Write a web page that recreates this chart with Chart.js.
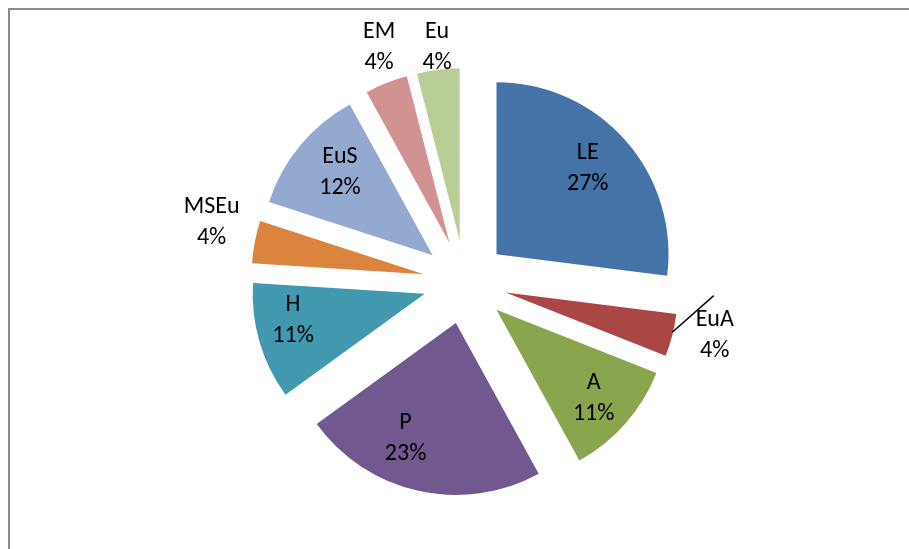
<!DOCTYPE html>
<html>
<head>
<meta charset="utf-8">
<script src="https://cdn.jsdelivr.net/npm/chart.js@4/dist/chart.umd.min.js"></script>
<style>
    html, body { margin: 0; padding: 0; background: #fff; overflow: hidden; }
    #wrap { position: relative; width: 909px; height: 549px; }
    #frame {
        position: absolute; left: 8px; top: 8px; width: 1000px; height: 1000px;
        border: 2px solid #8c8c8c; box-sizing: border-box;
    }
    #pieChart { position: absolute; left: 0; top: 0; }
</style>
</head>
<body>
<div id="wrap">
    <div id="frame"></div>
    <canvas id="pieChart" width="909" height="549"></canvas>
</div>
<script>
// slice names and shares (%), clockwise from 12 o'clock
const categories = ["LE", "EuA", "A", "P", "H", "MSEu", "EuS", "EM", "Eu"];
const shares = [27, 4, 11, 23, 11, 4, 12, 4, 4];

const sliceColors = ["#4572A7", "#AA4643", "#89A54E", "#71588F", "#4198AF",
                     "#DB843D", "#93A9CF", "#D19392", "#B9CD96"];

// label placement: distance from slice tip (fraction of radius) and a small
// turn (degrees) away from the slice's middle angle, like Excel's best fit
const labelDist = [0.73, 1.24, 0.765, 0.73, 0.78, 1.27, 0.725, 1.21, 1.13];
const labelTurn = [-2, -3, 1, 11, 5, 3, 2.4, 1.8, 0.5];
const leaderLine = [false, true, false, false, false, false, false, false, false];

const explode = 42;   // pixels every slice is pulled out
const fontFamily = "Carlito, Calibri, Lato, sans-serif";

// pull each slice out from the centre (Excel style, same distance for all)
const explodePlugin = {
    id: 'explode',
    beforeDatasetsDraw(chart) {
        const area = chart.chartArea;
        const cx = (area.left + area.right) / 2;
        const cy = (area.top + area.bottom) / 2;
        chart.getDatasetMeta(0).data.forEach(arc => {
            const mid = (arc.startAngle + arc.endAngle) / 2;
            arc.x = cx + Math.cos(mid) * explode;
            arc.y = cy + Math.sin(mid) * explode;
        });
    }
};

// category name + percentage on each slice
const labelPlugin = {
    id: 'sliceLabels',
    afterDatasetsDraw(chart) {
        const ctx = chart.ctx;
        const data = chart.data.datasets[0].data;
        const total = data.reduce((a, b) => a + b, 0);
        ctx.save();
        ctx.font = `24px ${fontFamily}`;
        ctx.fillStyle = "#000";
        ctx.textAlign = "center";
        ctx.textBaseline = "middle";
        chart.getDatasetMeta(0).data.forEach((arc, i) => {
            const mid = (arc.startAngle + arc.endAngle) / 2;
            const ang = mid + labelTurn[i] * Math.PI / 180;
            const r = arc.outerRadius;
            const lx = arc.x + Math.cos(ang) * r * labelDist[i];
            const ly = arc.y + Math.sin(ang) * r * labelDist[i];
            const pct = Math.round(data[i] / total * 100) + "%";
            ctx.fillText(chart.data.labels[i], lx, ly - 15);
            ctx.fillText(pct, lx, ly + 16);

            if (leaderLine[i]) {
                ctx.beginPath();
                ctx.strokeStyle = "#000";
                ctx.lineWidth = 1.5;
                ctx.moveTo(arc.x + Math.cos(mid) * r, arc.y + Math.sin(mid) * r - 3);
                ctx.lineTo(lx - 1, ly - 39);
                ctx.stroke();
            }
        });
        ctx.restore();
    }
};

new Chart(document.getElementById('pieChart'), {
    type: 'pie',
    data: {
        labels: categories,
        datasets: [{
            data: shares,
            backgroundColor: sliceColors,
            borderWidth: 0
        }]
    },
    options: {
        responsive: false,
        animation: false,
        events: [],
        radius: 172,
        layout: { padding: { left: 21, top: 15, right: 0, bottom: 0 } },
        plugins: {
            legend: { display: false },
            tooltip: { enabled: false }
        }
    },
    plugins: [explodePlugin, labelPlugin]
});
</script>
</body>
</html>
